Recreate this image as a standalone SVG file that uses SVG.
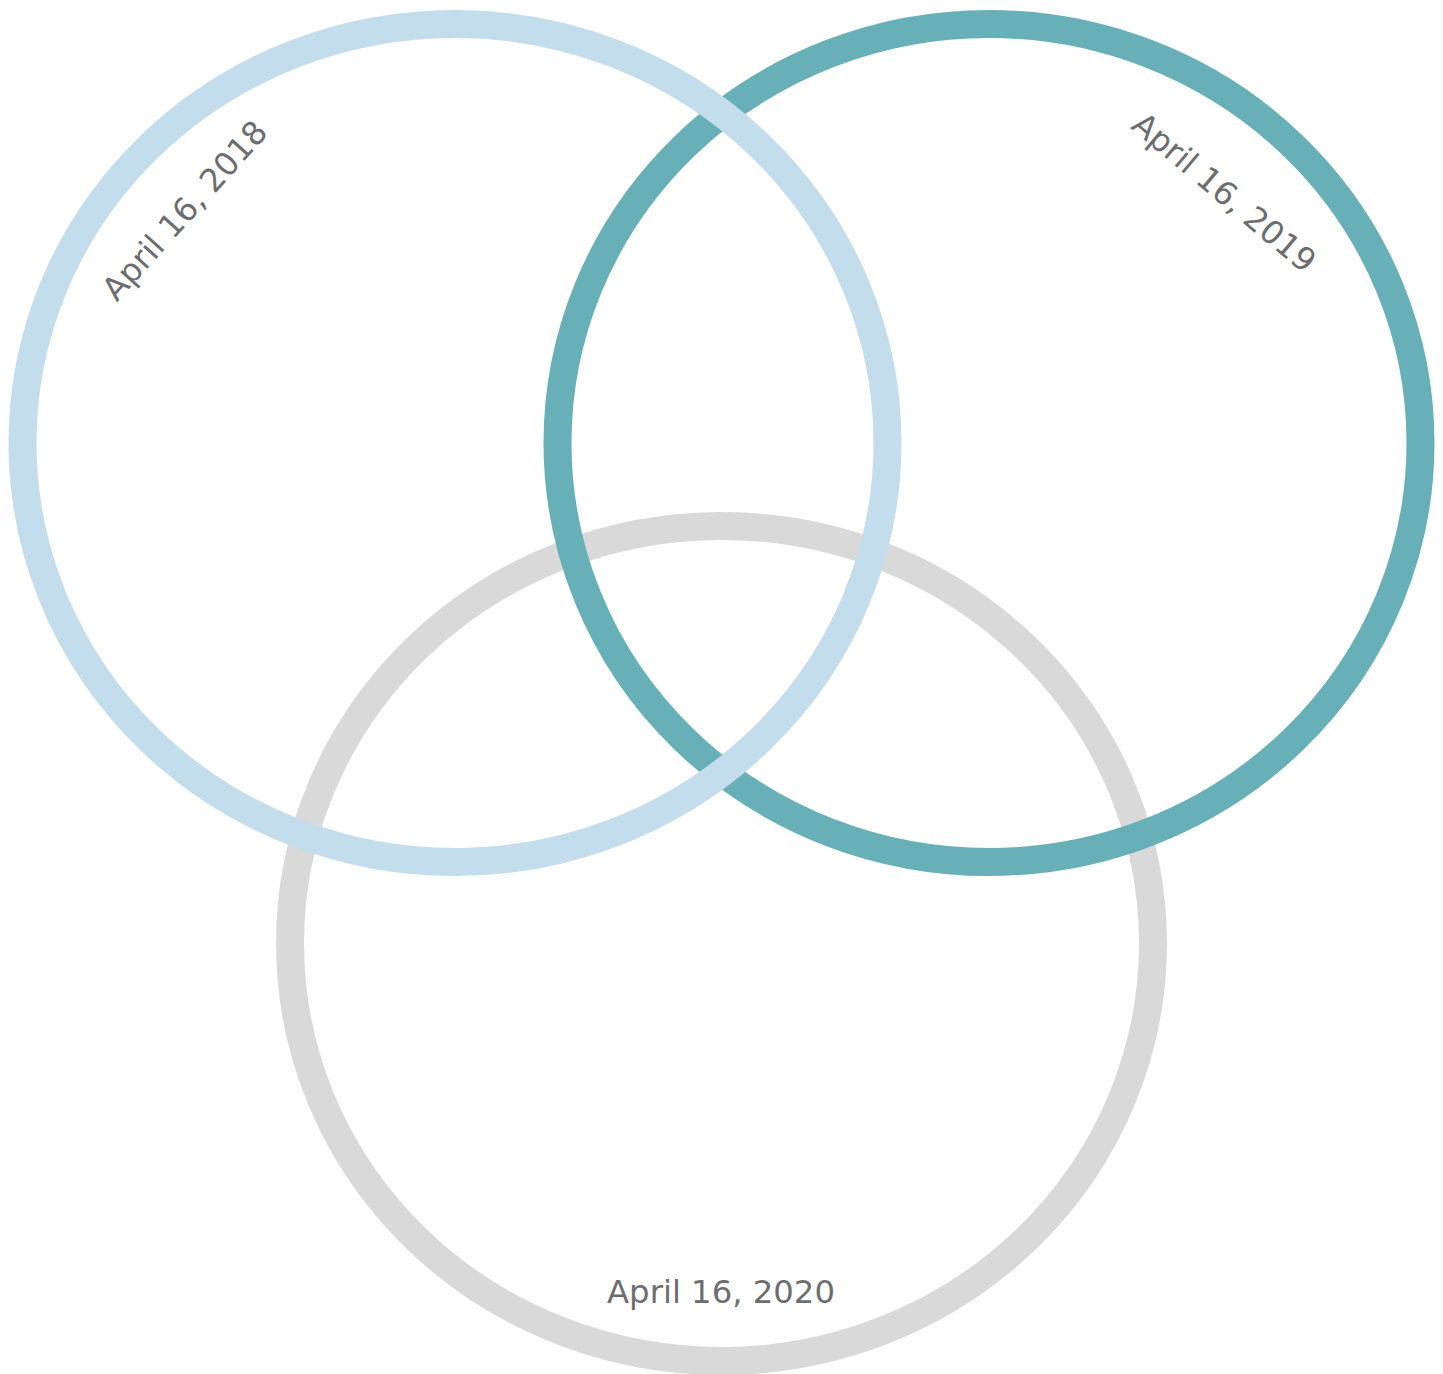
<svg xmlns="http://www.w3.org/2000/svg" width="1443" height="1374" viewBox="0 0 1443 1374">
<style>
.ring{fill:none;stroke-width:28;stroke-linejoin:miter}
.lbl{font-family:"DejaVu Sans","Verdana",sans-serif;font-size:32.3px;fill:#6d6d70;text-anchor:middle}
</style>
<rect width="1443" height="1374" fill="#ffffff"/>
<g id="set-2020">
<ellipse class="ring" cx="721.5" cy="943.5" rx="431.5" ry="417.5" stroke="#d9d9d9"/>
</g>
<g id="set-2019">
<ellipse class="ring" cx="989" cy="443" rx="431.5" ry="419" stroke="#67b0b8"/>
</g>
<g id="set-2018">
<ellipse class="ring" cx="455" cy="443" rx="432.5" ry="419" stroke="#c3ddec"/>
</g>
<g id="labels">
<text class="lbl" x="193" y="218" transform="rotate(-48 193 218)">April 16, 2018</text>
<text class="lbl" x="1217" y="201" transform="rotate(40 1217 201)">April 16, 2019</text>
<text class="lbl" x="721" y="1303">April 16, 2020</text>
</g>
</svg>
